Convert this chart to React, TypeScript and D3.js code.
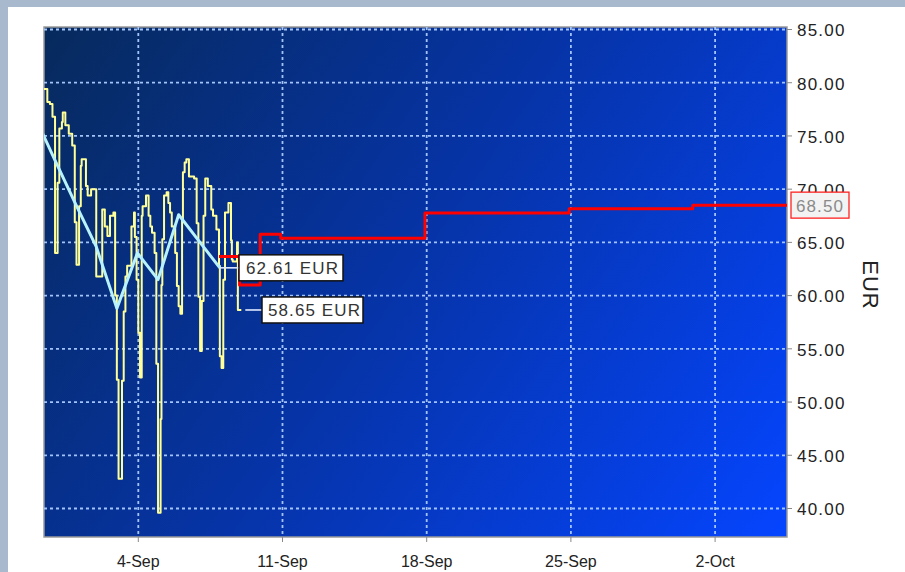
import React from 'react';
import * as d3 from 'd3';

// hours are counted from 30 Aug 00:00 (UTC)
const BASE = Date.UTC(2023, 7, 30);
const HOUR = 3600 * 1000;

// hourly spot price (only the change points)
const priceHours = [
  8, 14, 17, 20, 23, 26, 28, 31, 32, 35, 39, 43, 46, 48, 51, 53, 54, 59, 61, 65,
  71, 78, 81, 84, 87, 91, 93, 95, 97, 101, 103, 105, 107, 112, 115, 116, 118, 120, 122, 124,
  125, 129, 132, 134, 136, 139, 141, 143, 146, 147, 148, 150, 153, 155, 157, 159, 163, 165, 167, 169,
  171, 172, 174, 176, 179, 185, 188, 190, 192, 194, 196, 198, 201, 205, 207, 211, 214, 215, 217, 219,
  221, 225, 228, 229, 230, 235, 236, 240,
];
const priceValues = [
  79.4, 78.2, 78.0, 76.8, 64.0, 70.6, 75.7, 76.3, 77.2, 76.0, 75.2, 74.1, 66.9, 62.9, 68.4, 72.2, 72.8, 70.3, 69.4, 70.0,
  61.8, 68.1, 66.5, 65.6, 67.5, 67.8, 60.0, 52.1, 42.8, 52.0, 58.5, 61.8, 62.8, 66.5, 67.8, 65.5, 61.5, 56.5, 52.3, 67.5,
  68.4, 69.4, 67.5, 66.5, 65.9, 64.0, 53.6, 39.6, 48.4, 61.0, 65.3, 69.4, 69.7, 68.7, 67.8, 66.5, 64.0, 60.9, 59.0, 58.3,
  67.1, 71.6, 72.5, 72.8, 71.2, 71.0, 66.8, 59.9, 54.8, 59.5, 67.5, 71.0, 70.3, 68.1, 67.5, 66.2, 62.8, 54.3, 53.2, 61.5,
  67.8, 68.7, 65.2, 63.4, 63.2, 65.0, 58.65, 58.65,
];

// daily average
const avgHours = [-1, 23, 47, 71, 95, 119, 143, 167, 191, 215];
const avgValues = [76.9, 72.7, 68.6, 64.6, 58.8, 64.0, 61.5, 67.6, 65.1, 62.61];

// forward curve (step)
const fwdHours = [214, 238, 262, 286, 454, 622, 766, 880];
const fwdValues = [63.67, 61.0, 65.77, 65.4, 67.77, 68.15, 68.5, 68.5];

const yTicks = [40, 45, 50, 55, 60, 65, 70, 75, 80, 85];
const xTickDays = ['2023-09-04', '2023-09-11', '2023-09-18', '2023-09-25', '2023-10-02'];

const avgLabel = 62.61;
const priceLabel = 58.65;
const fwdLabel = 68.5;
const unit = 'EUR';

const W = 905;
const H = 572;
const plot = { left: 44, top: 27, right: 787, bottom: 537 };
const font = '"Liberation Sans", Arial, sans-serif';

const toDate = (h: number) => new Date(BASE + h * HOUR);

export default function App() {
  const x = d3
    .scaleUtc()
    .domain([new Date(BASE), new Date(Date.UTC(2023, 9, 2))])
    .range([35.3, 715.1]);
  const y = d3.scaleLinear().domain([40, 85]).range([508.5, 29.5]);

  const price = priceHours.map((h, i) => ({ t: toDate(h), v: priceValues[i] }));
  const avg = avgHours.map((h, i) => ({ t: toDate(h), v: avgValues[i] }));
  const fwd = fwdHours.map((h, i) => ({ t: toDate(h), v: fwdValues[i] }));

  const stepLine = d3
    .line<{ t: Date; v: number }>()
    .x((d) => x(d.t))
    .y((d) => y(d.v))
    .curve(d3.curveStepAfter);
  const straight = d3
    .line<{ t: Date; v: number }>()
    .x((d) => x(d.t))
    .y((d) => y(d.v));

  const xTicks = xTickDays.map((s) => new Date(s + 'T00:00:00Z'));
  const fmt = d3.utcFormat('%-d-%b');
  const fmt2 = d3.format('.2f');

  const avgEndX = x(avg[avg.length - 1].t);
  const priceEndX = x(price[price.length - 1].t);

  return (
    <div style={{ position: 'absolute', left: 0, top: 0 }}>
      <svg width={W} height={H} style={{ display: 'block', fontFamily: font }}>
        <defs>
          <linearGradient id="bg" gradientUnits="userSpaceOnUse" x1={plot.left} y1={plot.top} x2={plot.right} y2={plot.bottom}>
            <stop offset="0" stopColor="#072a5c" />
            <stop offset="0.5" stopColor="#0634aa" />
            <stop offset="1" stopColor="#0545ff" />
          </linearGradient>
          <clipPath id="clip">
            <rect x={plot.left} y={plot.top} width={plot.right - plot.left} height={plot.bottom - plot.top} />
          </clipPath>
        </defs>

        <rect width={W} height={H} fill="#a8b8cd" />
        <rect x={8} y={7} width={W - 8} height={H - 7} fill="#ffffff" />

        <rect
          x={plot.left}
          y={plot.top}
          width={plot.right - plot.left}
          height={plot.bottom - plot.top}
          fill="url(#bg)"
          stroke="#9a9a9a"
          strokeWidth={1.5}
        />

        <g clipPath="url(#clip)" stroke="#a3c4f8" strokeWidth={1.8} strokeDasharray="3,3">
          {yTicks.map((t) => (
            <line key={t} x1={plot.left} x2={plot.right} y1={y(t)} y2={y(t)} />
          ))}
          {xTicks.map((t) => (
            <line key={+t} x1={x(t)} x2={x(t)} y1={plot.top} y2={plot.bottom} />
          ))}
        </g>

        <g clipPath="url(#clip)" fill="none" strokeLinejoin="round">
          <path d={stepLine(price) ?? ''} stroke="#ffff99" strokeWidth={2} />
          <path d={straight(avg) ?? ''} stroke="#b8f2ff" strokeWidth={3} />
          <path d={stepLine(fwd) ?? ''} stroke="#ff0000" strokeWidth={3} />
        </g>

        {/* leaders and value boxes */}
        <line x1={avgEndX} x2={239} y1={y(avgLabel)} y2={y(avgLabel)} stroke="#dfe8ff" strokeWidth={1.6} />
        <line x1={priceEndX + 4} x2={262} y1={y(priceLabel)} y2={y(priceLabel)} stroke="#dfe8ff" strokeWidth={1.6} />
        <g fontSize={17} fill="#333" letterSpacing={1.1}>
          <rect x={239} y={y(avgLabel) - 13} width={104} height={26} fill="#fff" stroke="#111" strokeWidth={1.5} />
          <text x={246} y={y(avgLabel)} dy="0.36em">{`${fmt2(avgLabel)} ${unit}`}</text>
          <rect x={262} y={y(priceLabel) - 13} width={101} height={26} fill="#fff" stroke="#111" strokeWidth={1.5} />
          <text x={268} y={y(priceLabel)} dy="0.36em">{`${fmt2(priceLabel)} ${unit}`}</text>
        </g>

        {/* right axis */}
        <g fontSize={17} fill="#222" letterSpacing={1.2}>
          {yTicks.map((t) => (
            <g key={t}>
              <line x1={plot.right} x2={plot.right + 5} y1={y(t)} y2={y(t)} stroke="#888" />
              <text x={797} y={y(t)} dy="0.4em">{fmt2(t)}</text>
            </g>
          ))}
        </g>
        <rect x={791} y={y(fwdLabel) - 13} width={58} height={26} fill="#f3f3f3" stroke="#ff2020" strokeWidth={1.3} />
        <text x={796} y={y(fwdLabel)} dy="0.38em" fontSize={17} fill="#8a8a8a" letterSpacing={1.1}>
          {fmt2(fwdLabel)}
        </text>
        <text
          transform={`translate(863, 285) rotate(90)`}
          textAnchor="middle"
          fontSize={22}
          fill="#222"
          letterSpacing={1}
        >
          {unit}
        </text>

        {/* bottom axis */}
        <g fontSize={16} fill="#222" textAnchor="middle">
          {xTicks.map((t) => (
            <g key={+t}>
              <line x1={x(t)} x2={x(t)} y1={plot.bottom} y2={plot.bottom + 5} stroke="#888" />
              <text x={x(t)} y={567}>{fmt(t)}</text>
            </g>
          ))}
        </g>
      </svg>
    </div>
  );
}
